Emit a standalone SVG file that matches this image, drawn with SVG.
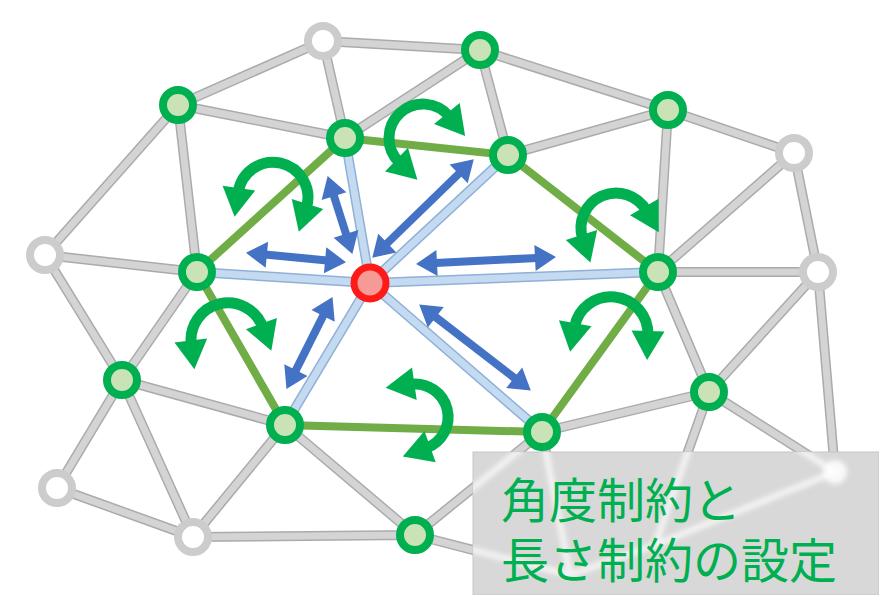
<svg xmlns="http://www.w3.org/2000/svg" width="879" height="595" viewBox="0 0 879 595">
<style>
.eo{fill:none;stroke:#ababab;stroke-width:10;stroke-linecap:round}
.ei{fill:none;stroke:#d4d4d4;stroke-width:7;stroke-linecap:round}
.so{fill:none;stroke:#8fb0d8;stroke-width:10;stroke-linecap:round}
.si{fill:none;stroke:#c4daf1;stroke-width:7;stroke-linecap:round}
.ol{fill:none;stroke:#70ad47;stroke-width:8;stroke-linecap:round}
.gn{fill:#c9e3b6;stroke:#00b050;stroke-width:8}
.wn{fill:#ffffff;stroke:#cccccc;stroke-width:8}
.rn{fill:#f59a94;stroke:#ff1a1a;stroke-width:7}
.ba{stroke:#4472c4;stroke-width:8;marker-start:url(#bh);marker-end:url(#bh)}
.ga{fill:none;stroke:#00b050;stroke-width:11;marker-start:url(#gh);marker-end:url(#gh)}
.st{fill:none;stroke:#ffffff;stroke-width:6;stroke-linecap:round;opacity:0.75}
.lbl{font-family:"Liberation Sans","Noto Sans CJK JP","Noto Sans CJK SC",sans-serif;font-size:48px;fill:#00b050}
</style>
<defs>
<marker id="bh" markerUnits="userSpaceOnUse" markerWidth="21" markerHeight="26" refX="2" refY="13" orient="auto-start-reverse" overflow="visible">
<path d="M0,0 L21,13 L0,26 z" fill="#4472c4"/>
</marker>
<marker id="gh" markerUnits="userSpaceOnUse" markerWidth="29" markerHeight="33" refX="4" refY="16.5" orient="auto-start-reverse" overflow="visible">
<path d="M0,0 L29,16.5 L0,33 z" fill="#00b050"/>
</marker>
<path id="grayEdges" d="M323,41 L178,105 M323,41 L480,50 M323,41 L345,138 M178,105 L345,138 M178,105 L45,255 M178,105 L197,272 M345,138 L480,50 M480,50 L508,155 M480,50 L668,110 M508,155 L668,110 M668,110 L794,153 M668,110 L658,272 M794,153 L658,272 M794,153 L818,272 M658,272 L818,272 M45,255 L197,272 M45,255 L122,380 M197,272 L122,380 M122,380 L285,425 M122,380 L57,488 M122,380 L193,537 M57,488 L193,537 M193,537 L285,425 M193,537 L415,535 M285,425 L415,535 M415,535 L542,432 M542,432 L709,392 M658,272 L709,392 M818,272 L709,392 M709,392 L835,472 M818,272 L835,472 M709,392 L655,545 M835,472 L655,545 M415,535 L570,575 M542,432 L570,575 M570,575 L655,545"/>
<path id="spokes" d="M370,283 L345,138 M370,283 L508,155 M370,283 L197,272 M370,283 L658,272 M370,283 L285,425 M370,283 L542,432"/>
<filter id="blur" x="-20%" y="-20%" width="140%" height="140%"><feGaussianBlur stdDeviation="2.5"/></filter>
<clipPath id="boxclip"><rect x="473" y="452" width="406" height="143"/></clipPath>
</defs>
<g id="connectors">
<use href="#grayEdges" class="eo"/>
<use href="#grayEdges" class="ei"/>
<use href="#spokes" class="so"/>
<use href="#spokes" class="si"/>
<path class="ol" d="M345,138 L508,155 L658,272 L542,432 L285,425 L197,272 Z"/>
</g>
<g id="nodes">
<g id="w1"><circle class="wn" cx="323" cy="41" r="15"/></g>
<g id="w2"><circle class="wn" cx="45" cy="255" r="15"/></g>
<g id="w3"><circle class="wn" cx="794" cy="153" r="15"/></g>
<g id="w4"><circle class="wn" cx="818" cy="272" r="15"/></g>
<g id="w5"><circle class="wn" cx="57" cy="488" r="15"/></g>
<g id="w6"><circle class="wn" cx="193" cy="537" r="15"/></g>
<g id="w7"><circle class="wn" cx="835" cy="472" r="15"/></g>
<g id="g1"><circle class="gn" cx="178" cy="105" r="15"/></g>
<g id="g2"><circle class="gn" cx="345" cy="138" r="15"/></g>
<g id="g3"><circle class="gn" cx="480" cy="50" r="15"/></g>
<g id="g4"><circle class="gn" cx="508" cy="155" r="15"/></g>
<g id="g5"><circle class="gn" cx="668" cy="110" r="15"/></g>
<g id="g6"><circle class="gn" cx="197" cy="272" r="15"/></g>
<g id="g7"><circle class="gn" cx="658" cy="272" r="15"/></g>
<g id="g8"><circle class="gn" cx="122" cy="380" r="15"/></g>
<g id="g9"><circle class="gn" cx="285" cy="425" r="15"/></g>
<g id="g10"><circle class="gn" cx="542" cy="432" r="15"/></g>
<g id="g11"><circle class="gn" cx="709" cy="392" r="15"/></g>
<g id="g12"><circle class="gn" cx="415" cy="535" r="15"/></g>
<g id="center"><circle class="rn" cx="370" cy="283" r="16"/></g>
</g>
<g id="length-arrows">
<line class="ba" x1="264.9" y1="254.6" x2="327.1" y2="260.4"/>
<line class="ba" x1="333.4" y1="194.2" x2="346.6" y2="235.8"/>
<line class="ba" x1="385.9" y1="244.5" x2="460.1" y2="172.5"/>
<line class="ba" x1="435" y1="263.1" x2="537" y2="257.9"/>
<line class="ba" x1="434.2" y1="316" x2="515.8" y2="379"/>
<line class="ba" x1="324" y1="314.1" x2="295" y2="371.9"/>
</g>
<g id="angle-arrows">
<path class="ga" d="M238.3,192.1 A35,35 0 1 1 306.3,207.8"/>
<path class="ga" d="M449.4,116.6 A34,34 0 1 0 399.4,162.5"/>
<path class="ga" d="M582.7,238.8 A35,35 0 0 1 646.3,210.5"/>
<path class="ga" d="M574.5,327.2 A37,37 0 0 1 647.9,334.9"/>
<path class="ga" d="M410.4,384.3 A33,33 0 0 1 426.3,448"/>
<path class="ga" d="M191.3,344.5 A37,37 0 0 1 262.8,327.3"/>
</g>
<g id="label">
<rect x="473" y="452" width="406" height="143" fill="#d8d8d8" stroke="#c6c6c6" stroke-width="1"/>
<g clip-path="url(#boxclip)" filter="url(#blur)">
<path class="st" d="M542,432 L570,575 M415,535 L570,575 M542,432 L415,535 M709,392 L655,545 M835,472 L655,545 M709,392 L835,472 M570,575 L655,545"/>
<circle cx="835" cy="472" r="12" fill="#ffffff" opacity="0.85"/>
</g>
<text class="lbl"><tspan x="501" y="518">角度制約と</tspan><tspan x="501" y="578">長さ制約の設定</tspan></text>
</g>
</svg>
